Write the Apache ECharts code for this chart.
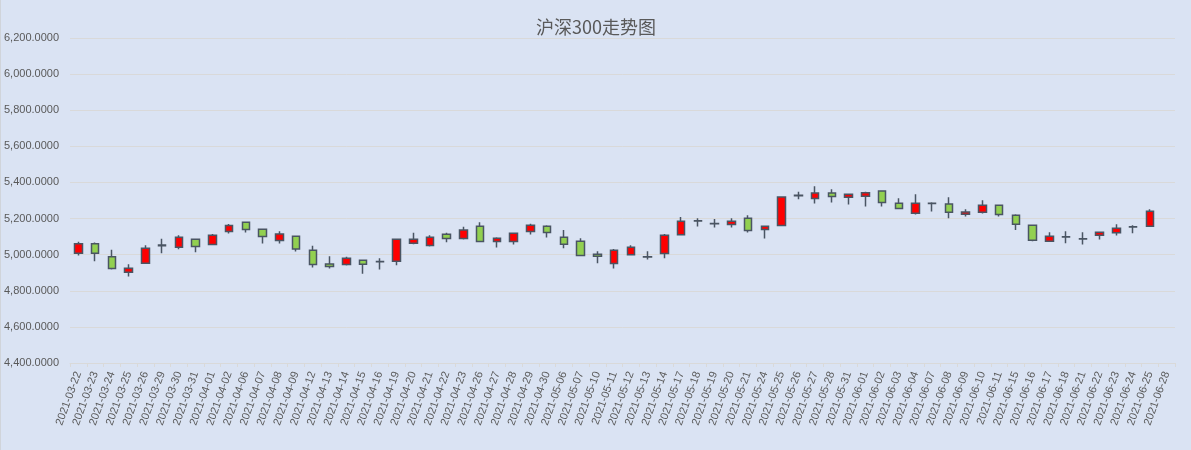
<!DOCTYPE html>
<html>
<head>
<meta charset="utf-8">
<script src="https://cdn.jsdelivr.net/npm/echarts@6/dist/echarts.min.js"></script>
<style>
html,body{margin:0;padding:0;background:#DAE3F3;}
#chart{width:1190px;height:450px;border-left:1px solid #D0D4DA;}
</style>
</head>
<body>
<div id="chart"></div>
<script>
var dates = ['2021-03-22','2021-03-23','2021-03-24','2021-03-25','2021-03-26','2021-03-29','2021-03-30','2021-03-31',
'2021-04-01','2021-04-02','2021-04-06','2021-04-07','2021-04-08','2021-04-09','2021-04-12','2021-04-13','2021-04-14','2021-04-15','2021-04-16','2021-04-19','2021-04-20','2021-04-21','2021-04-22','2021-04-23','2021-04-26','2021-04-27','2021-04-28','2021-04-29','2021-04-30',
'2021-05-06','2021-05-07','2021-05-10','2021-05-11','2021-05-12','2021-05-13','2021-05-14','2021-05-17','2021-05-18','2021-05-19','2021-05-20','2021-05-21','2021-05-24','2021-05-25','2021-05-26','2021-05-27','2021-05-28','2021-05-31',
'2021-06-01','2021-06-02','2021-06-03','2021-06-04','2021-06-07','2021-06-08','2021-06-09','2021-06-10','2021-06-11','2021-06-15','2021-06-16','2021-06-17','2021-06-18','2021-06-21','2021-06-22','2021-06-23','2021-06-24','2021-06-25','2021-06-28'];

var opens  = [5008,5060,4988,4903,4953,5049,5041,5086,5056,5128,5180,5141,5078,5102,5025,4949,4945,4969,4962,4964,5063,5051,5113,5089,5158,5073,5073,5128,5158,5097,5075,5003,4951,4999,4988,5006,5111,5188,5173,5167,5202,5139,5161,5327,5311,5341,5318,5324,5352,5285,5230,5285,5280,5224,5235,5274,5219,5163,5075,5099,5088,5108,5122,5155,5158,null];
var closes = [5060,5008,4923,4925,5036,5053,5097,5045,5108,5161,5139,5100,5115,5032,4945,4934,4980,4947,4961,5086,5086,5097,5089,5136,5073,5091,5119,5163,5123,5058,4995,4991,5025,5041,4987,5108,5185,5186,5171,5185,5134,5158,5319,5329,5341,5322,5335,5343,5289,5256,5285,5283,5235,5237,5274,5222,5169,5080,5102,5098,5087,5124,5147,5153,5241,null];
var lows   = [4995,4964,4918,4879,4949,5008,5030,5014,5056,5117,5123,5062,5062,5017,4929,4923,4940,4895,4918,4942,5058,5045,5069,5084,5073,5040,5056,5112,5095,5036,4995,4953,4923,4995,4973,4980,5111,5156,5150,5150,5123,5089,5161,5307,5283,5289,5278,5267,5267,5256,5222,5239,5202,5211,5228,5211,5136,5075,5075,5063,5056,5084,5106,5119,5158,null];
var highs  = [5071,5067,5027,4947,5052,5088,5108,5086,5115,5170,5180,5141,5130,5102,5049,4991,4988,4969,4980,5086,5121,5108,5121,5154,5180,5097,5119,5171,5163,5136,5091,5019,5032,5052,5019,5115,5208,5202,5197,5202,5219,5158,5324,5348,5379,5363,5335,5348,5352,5313,5335,5290,5318,5252,5302,5274,5224,5163,5124,5130,5124,5124,5169,5163,5252,null];

var yTicks = [4400,4600,4800,5000,5200,5400,5600,5800,6000,6200];

var ohlc = dates.map(function(d,i){
  if (opens[i] === null) return ['-','-','-','-'];
  return [opens[i], closes[i], lows[i], highs[i]];
});

var chart = echarts.init(document.getElementById('chart'));
var font = 'Liberation Sans, Arial, sans-serif';
chart.setOption({
  backgroundColor: '#DAE3F3',
  animation: false,
  title: {
    text: '沪深300走势图',
    left: 'center',
    top: 13,
    textStyle: {color: '#595959', fontSize: 18, fontWeight: 'normal', fontFamily: 'Noto Sans CJK SC, sans-serif'}
  },
  grid: {left: 68, right: 16, top: 38, bottom: 87},
  xAxis: {
    type: 'category',
    data: dates,
    boundaryGap: true,
    axisLine: {lineStyle: {color: '#D9D9D9'}},
    axisTick: {show: true, length: 4, lineStyle: {color: '#D9D9D9'}},
    axisLabel: {rotate: 70, interval: 0, color: '#595959', fontSize: 11, fontFamily: font, margin: 9}
  },
  yAxis: {
    type: 'value',
    min: yTicks[0],
    max: yTicks[yTicks.length-1],
    interval: 200,
    axisLine: {show: false},
    axisTick: {show: false},
    splitLine: {lineStyle: {color: '#D9D9D9'}},
    axisLabel: {
      color: '#595959', fontSize: 11, fontFamily: font, margin: 11,
      formatter: function(v){ return v.toLocaleString('en-US', {minimumFractionDigits: 4, maximumFractionDigits: 4}); }
    }
  },
  series: [{
    type: 'candlestick',
    data: ohlc,
    barWidth: 8,
    itemStyle: {
      color: '#FF0000',
      color0: '#92D050',
      borderColor: '#4A5563',
      borderColor0: '#4A5563',
      borderColorDoji: '#4A5563',
      borderWidth: 1.5
    }
  }]
});
</script>
</body>
</html>
